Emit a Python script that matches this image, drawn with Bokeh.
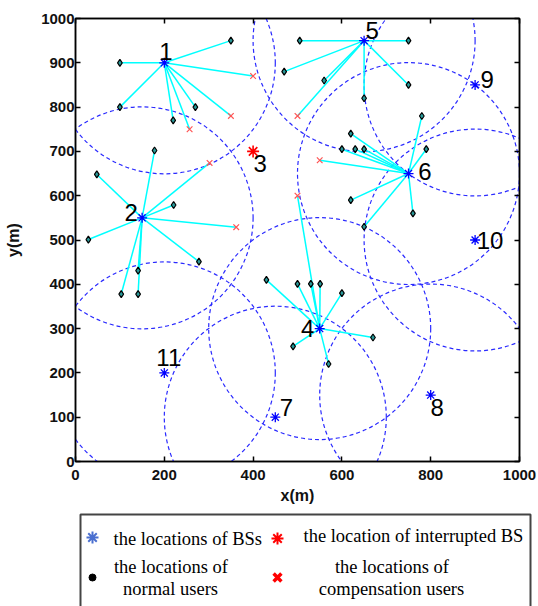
import numpy as np
from bokeh.plotting import figure
from bokeh.models import Range1d, LinearAxis, FixedTicker, ColumnDataSource
from bokeh.layouts import column
from bokeh.embed import file_html
from bokeh.resources import INLINE
from bokeh.core.properties import value

# ---------------- data ----------------
bs_id = ["1", "2", "3", "4", "5", "6", "7", "8", "9", "10", "11"]
bs_x = [200, 150, 400, 550, 650, 750, 450, 800, 900, 900, 200]
bs_y = [900, 550, 700, 300, 950, 650, 100, 150, 850, 500, 200]
interrupted_bs = "3"
coverage_radius = 250

# users: position, serving BS id, kind (N = normal, C = compensation)
user_x = [100, 350, 100, 270, 220, 400, 350, 257,
          178, 48, 221, 29, 278, 141, 103, 141, 302, 362,
          430, 500, 530, 551, 600, 670, 490, 570, 500,
          505, 750, 560, 650, 750, 470, 500,
          780, 790, 620, 600, 630, 650, 620, 650, 760, 550]
user_y = [900, 950, 800, 800, 770, 870, 780, 750,
          702, 648, 579, 501, 451, 431, 378, 378, 674, 529,
          410, 401, 401, 401, 380, 280, 260, 220, 600,
          950, 950, 860, 820, 850, 880, 780,
          780, 705, 740, 705, 705, 705, 590, 530, 560, 680]
user_bs = ["1"] * 8 + ["2"] * 10 + ["4"] * 9 + ["5"] * 7 + ["6"] * 10
user_kind = (["N"] * 5 + ["C"] * 3 +
             ["N"] * 8 + ["C"] * 2 +
             ["N"] * 8 + ["C"] +
             ["N"] * 6 + ["C"] +
             ["N"] * 9 + ["C"])

x_ticks = [0, 200, 400, 600, 800, 1000]
y_ticks = [0, 100, 200, 300, 400, 500, 600, 700, 800, 900, 1000]

# label placement (screen px offsets from the BS marker)
label_dx = [1.5, -11, 7, -12, 8, 16.5, 11, 6.5, 12, 15, 4.5]
label_dy = [-11, -5, 12, 0, -10, -2, -10, 12, -5, 0, -15]

# ---------------- derived ----------------
bs_pos = {b: (x, y) for b, x, y in zip(bs_id, bs_x, bs_y)}
seg = ColumnDataSource(dict(
    x0=[bs_pos[b][0] for b in user_bs], y0=[bs_pos[b][1] for b in user_bs],
    x1=user_x, y1=user_y))
normal = ColumnDataSource(dict(
    x=[x for x, k in zip(user_x, user_kind) if k == "N"],
    y=[y for y, k in zip(user_y, user_kind) if k == "N"]))
comp = ColumnDataSource(dict(
    x=[x for x, k in zip(user_x, user_kind) if k == "C"],
    y=[y for y, k in zip(user_y, user_kind) if k == "C"]))
active = ColumnDataSource(dict(
    x=[x for b, x in zip(bs_id, bs_x) if b != interrupted_bs],
    y=[y for b, y in zip(bs_id, bs_y) if b != interrupted_bs]))
down = ColumnDataSource(dict(
    x=[x for b, x in zip(bs_id, bs_x) if b == interrupted_bs],
    y=[y for b, y in zip(bs_id, bs_y) if b == interrupted_bs]))
labels = ColumnDataSource(dict(x=bs_x, y=bs_y, text=bs_id, dx=label_dx, dy=label_dy))

# ---------------- main plot ----------------
p = figure(width=538, height=512, x_range=Range1d(0, 1000), y_range=Range1d(0, 1000),
           output_backend="svg", toolbar_location=None,
           min_border_left=75, min_border_right=19, min_border_top=18, min_border_bottom=51,
           x_axis_label="x(m)", y_axis_label="y(m)")
p.frame_align = False
p.grid.visible = False
p.outline_line_color = "black"
p.outline_line_width = 1.5
p.background_fill_color = "white"
p.border_fill_color = "white"

p.circle(x="x", y="y", radius=coverage_radius, source=active, fill_color=None,
         line_color="#2a2aff", line_width=1.2, line_dash="4 3")
p.segment(x0="x0", y0="y0", x1="x1", y1="y1", source=seg, line_color="#00ffff", line_width=1.5)
p.scatter(x="x", y="y", source=normal, marker="diamond", size=7,
          line_color="black", fill_color="#2a9a9a", line_width=1.2)
p.scatter(x="x", y="y", source=comp, marker="x", size=8, line_color="#ff5555", line_width=1.2)
p.scatter(x="x", y="y", source=active, marker="asterisk", size=10, line_color="#0000ff", line_width=1.3)
p.scatter(x="x", y="y", source=down, marker="asterisk", size=12, line_color="#ff0000", line_width=1.6)
p.text(x="x", y="y", text="text", x_offset="dx", y_offset="dy", source=labels,
       text_align="center", text_baseline="middle", text_color="black",
       text_font=value("Liberation Sans"), text_font_size="24px")

for ax in (p.xaxis[0], p.yaxis[0]):
    ax.major_tick_in = 5
    ax.major_tick_out = 0
    ax.minor_tick_line_color = None
    ax.axis_line_width = 1.5
    ax.major_tick_line_width = 1.5
    ax.major_label_text_font = "Liberation Sans"
    ax.major_label_text_font_size = "15px"
    ax.major_label_text_font_style = "bold"
    ax.major_label_text_color = "#111111"
    ax.axis_label_text_font = "Liberation Sans"
    ax.axis_label_text_font_size = "16px"
    ax.axis_label_text_font_style = "bold"
    ax.axis_label_text_color = "#111111"
p.xaxis[0].ticker = FixedTicker(ticks=x_ticks)
p.yaxis[0].ticker = FixedTicker(ticks=y_ticks)
p.xaxis[0].major_label_standoff = 8
p.xaxis[0].axis_label_standoff = 4
p.yaxis[0].major_label_standoff = 1
p.yaxis[0].axis_label_standoff = 16

for loc, ticks in (("above", x_ticks), ("right", y_ticks)):
    ax = LinearAxis(ticker=FixedTicker(ticks=ticks))
    ax.major_tick_in = 5
    ax.major_tick_out = 0
    ax.minor_tick_line_color = None
    ax.axis_line_width = 1.5
    ax.major_tick_line_width = 1.5
    ax.major_label_text_font_size = "1px"
    ax.major_label_text_color = None
    ax.major_label_standoff = 0
    p.add_layout(ax, loc)

# ---------------- legend panel ----------------
q = figure(width=538, height=94, x_range=Range1d(0, 538), y_range=Range1d(94, 0),
           output_backend="svg", toolbar_location=None, min_border=0)
q.frame_align = False
q.axis.visible = False
q.grid.visible = False
q.outline_line_color = None
q.border_fill_color = "white"
q.background_fill_color = "white"

q.quad(left=[80], right=[530], top=[2], bottom=[300], fill_color=None,
       line_color="#444444", line_width=2)
q.scatter(x=[92], y=[25], marker="asterisk", size=12, line_color="#4a6fd0", line_width=2)
q.scatter(x=[277], y=[26], marker="asterisk", size=12, line_color="#ff0000", line_width=2)
q.scatter(x=[92], y=[65], marker="circle", size=7, line_color="black", fill_color="black")
q.scatter(x=[277], y=[65], marker="x", size=11, line_color="#ff0000", line_width=3.5)
serif = value("Liberation Serif")
q.text(x=[113, 303], y=[26, 23], text=["the locations of BSs", "the location of interrupted BS"],
       text_align="left", text_baseline="middle", text_font=serif, text_font_size="18.5px",
       text_color="black")
q.text(x=[170.5, 170, 391.5, 391], y=[54, 76, 54, 76],
       text=["the locations of", "normal users", "the locations of", "compensation users"],
       text_align="center", text_baseline="middle", text_font=serif, text_font_size="18.5px",
       text_color="black")

layout = column(p, q, spacing=0)
open("out.html", "w").write(file_html(layout, INLINE))
